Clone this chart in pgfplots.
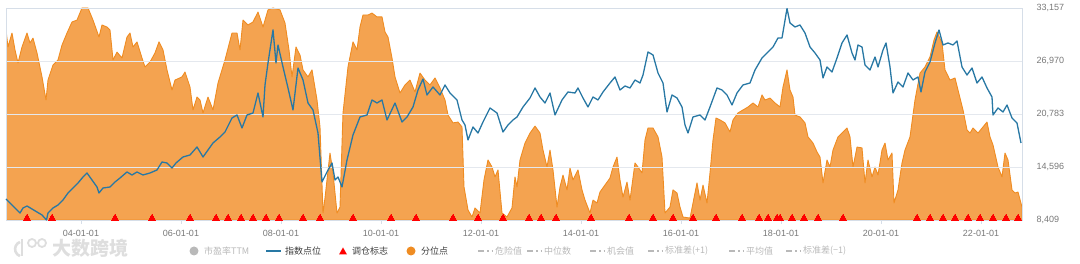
\documentclass[border=0pt]{standalone}
\usepackage{pgfplots}
\pgfplotsset{compat=1.18}
\usepackage{fontspec}
\setmainfont{Liberation Sans}
\newfontfamily\cjk{Noto Sans CJK SC}
\definecolor{orangefill}{RGB}{244,163,80}
\definecolor{orangeline}{RGB}{239,140,34}
\definecolor{idxblue}{RGB}{40,120,164}
\definecolor{gridc}{RGB}{228,232,238}
\definecolor{axisc}{RGB}{214,222,232}
\definecolor{tickc}{RGB}{120,120,120}
\definecolor{inact}{RGB}{185,185,185}
\definecolor{actc}{RGB}{60,60,60}
\definecolor{wm}{RGB}{222,222,222}

\pgfplotstableread{
year pct
2002.50 89.6
2002.54 81.6
2002.62 88.2
2002.68 80.2
2002.74 74.1
2002.82 81.6
2002.92 88.2
2002.98 83.5
2003.04 85.8
2003.12 78.8
2003.22 67.5
2003.30 56.6
2003.34 66.0
2003.44 73.1
2003.54 75.5
2003.62 82.5
2003.72 88.2
2003.82 93.4
2003.92 94.3
2004.02 100
2004.14 100
2004.24 94.3
2004.36 86.3
2004.42 92.0
2004.52 91.0
2004.58 89.6
2004.64 75.5
2004.72 79.2
2004.82 76.4
2004.92 86.3
2004.98 88.2
2005.04 81.6
2005.12 84.0
2005.22 76.4
2005.28 72.2
2005.38 74.5
2005.48 78.8
2005.56 84.0
2005.64 80.2
2005.72 70.8
2005.82 61.3
2005.88 66.0
2006.02 67.5
2006.08 69.8
2006.18 62.7
2006.24 51.9
2006.32 58.0
2006.38 56.6
2006.44 50.5
2006.54 58.0
2006.64 51.9
2006.74 64.6
2006.88 75.5
2007.02 88.2
2007.12 88.2
2007.18 80.2
2007.24 94.3
2007.34 92.0
2007.44 93.4
2007.54 98.1
2007.64 91.0
2007.74 99.1
2007.84 100
2007.98 99.1
2008.08 92.9
2008.16 80.2
2008.22 67.5
2008.30 81.6
2008.38 77.8
2008.44 70.8
2008.54 67.5
2008.62 70.8
2008.72 56.6
2008.78 43.9
2008.84 3.3
2008.88 10.4
2008.98 31.6
2009.04 22.2
2009.12 3.3
2009.18 6.1
2009.24 50.5
2009.34 72.2
2009.44 84.0
2009.52 80.2
2009.58 91.0
2009.64 96.7
2009.74 96.7
2009.82 97.6
2009.92 95.8
2010.02 95.8
2010.08 88.7
2010.14 86.3
2010.22 76.4
2010.28 67.5
2010.38 59.9
2010.48 63.7
2010.58 66.0
2010.68 60.4
2010.78 69.3
2010.88 66.0
2010.98 63.7
2011.08 67.0
2011.18 62.3
2011.28 56.6
2011.34 49.5
2011.44 45.8
2011.54 46.2
2011.62 43.9
2011.66 15.6
2011.74 4.7
2011.82 1.4
2011.88 5.7
2011.98 3.3
2012.06 18.9
2012.14 28.3
2012.22 25.0
2012.28 20.3
2012.34 23.6
2012.42 3.3
2012.52 1.4
2012.62 5.7
2012.68 20.3
2012.72 15.6
2012.78 28.3
2012.88 36.3
2012.98 41.0
2013.08 44.3
2013.18 41.0
2013.24 33.0
2013.32 25.0
2013.38 33.0
2013.44 23.6
2013.52 6.1
2013.58 15.6
2013.64 21.2
2013.72 14.2
2013.78 24.5
2013.84 18.9
2013.94 23.6
2014.02 14.2
2014.08 9.4
2014.18 3.3
2014.24 9.4
2014.32 8.0
2014.38 13.2
2014.48 16.5
2014.58 19.8
2014.64 25.0
2014.72 29.7
2014.78 18.9
2014.84 10.8
2014.92 17.9
2014.98 9.4
2015.08 26.9
2015.14 25.0
2015.22 22.2
2015.28 37.7
2015.34 43.4
2015.44 43.4
2015.54 39.2
2015.62 29.7
2015.68 3.3
2015.78 6.1
2015.84 14.2
2015.92 12.7
2015.98 6.1
2016.04 1.4
2016.18 0.9
2016.24 8.0
2016.32 17.5
2016.38 9.4
2016.44 16.5
2016.52 8.0
2016.58 22.2
2016.64 37.7
2016.70 48.1
2016.78 47.2
2016.88 45.8
2016.98 41.5
2017.04 47.2
2017.14 50.5
2017.24 51.9
2017.34 53.3
2017.44 55.2
2017.54 53.3
2017.62 59.0
2017.68 56.6
2017.78 57.5
2017.88 55.2
2017.98 53.3
2018.04 62.7
2018.12 70.8
2018.18 61.3
2018.24 58.0
2018.28 49.5
2018.38 48.6
2018.48 45.8
2018.54 39.2
2018.64 36.3
2018.72 32.1
2018.78 29.7
2018.84 17.5
2018.92 28.3
2018.98 25.0
2019.04 33.0
2019.14 39.2
2019.24 41.5
2019.32 43.4
2019.38 39.2
2019.44 25.0
2019.52 34.4
2019.62 34.0
2019.68 17.5
2019.74 28.3
2019.82 20.3
2019.88 25.0
2019.94 21.2
2020.02 33.0
2020.08 36.3
2020.14 28.3
2020.22 31.6
2020.26 8.0
2020.34 14.2
2020.42 26.9
2020.48 33.0
2020.58 39.2
2020.68 56.6
2020.78 69.3
2020.88 72.2
2020.98 76.9
2021.06 84.9
2021.12 88.7
2021.22 83.5
2021.28 70.8
2021.38 66.0
2021.48 67.0
2021.54 61.3
2021.64 51.9
2021.72 42.5
2021.78 41.0
2021.84 43.4
2021.94 41.0
2022.04 43.9
2022.12 46.2
2022.18 39.2
2022.24 35.4
2022.34 25.0
2022.42 20.3
2022.48 31.6
2022.54 28.3
2022.62 14.2
2022.68 12.7
2022.74 13.2
2022.82 6.1
}\pcttable

\pgfplotstableread{
year idx
2002.50 10861
2002.58 10394
2002.68 9810
2002.78 9226
2002.84 9810
2002.92 10043
2003.02 9693
2003.12 9343
2003.22 8993
2003.31 8409
2003.34 9226
2003.44 9810
2003.54 10160
2003.64 10744
2003.74 11561
2003.84 12145
2003.94 12728
2004.04 13429
2004.12 13896
2004.22 13079
2004.32 12261
2004.36 11561
2004.44 12145
2004.58 12261
2004.68 12845
2004.78 13312
2004.92 14013
2005.02 13662
2005.12 14013
2005.24 13662
2005.38 13896
2005.52 14246
2005.62 15180
2005.72 15063
2005.82 14479
2005.90 15063
2006.04 15764
2006.18 15997
2006.32 16931
2006.44 15764
2006.64 17398
2006.78 18098
2006.88 18682
2007.02 20316
2007.12 20667
2007.22 19149
2007.32 20667
2007.44 20900
2007.54 23235
2007.64 20433
2007.68 24169
2007.74 26737
2007.84 30600
2007.90 26737
2007.94 28839
2008.04 26270
2008.14 23819
2008.24 21250
2008.34 26153
2008.44 24753
2008.54 22067
2008.64 21250
2008.74 18565
2008.82 12845
2008.92 14013
2009.02 15063
2009.08 13079
2009.14 13429
2009.22 12261
2009.32 15413
2009.44 18332
2009.58 20433
2009.72 20667
2009.82 22418
2009.92 22067
2010.02 22418
2010.12 20083
2010.28 22067
2010.42 19850
2010.52 20433
2010.64 21601
2010.74 23585
2010.84 24869
2010.92 23002
2011.04 23935
2011.18 23002
2011.28 24169
2011.38 23235
2011.52 22418
2011.62 20083
2011.68 19499
2011.74 17748
2011.84 19266
2011.94 18565
2012.04 19850
2012.18 21484
2012.32 20900
2012.44 18682
2012.54 19499
2012.64 20083
2012.72 20433
2012.84 21601
2012.98 22651
2013.08 23819
2013.18 22768
2013.28 22067
2013.38 23235
2013.48 20667
2013.62 22418
2013.74 23352
2013.88 23235
2013.94 23819
2014.04 22651
2014.14 21601
2014.24 22768
2014.34 22418
2014.44 23352
2014.58 24402
2014.68 25103
2014.78 23585
2014.88 24052
2014.98 23819
2015.08 24753
2015.18 24402
2015.24 25336
2015.34 28021
2015.44 27671
2015.54 25570
2015.64 24402
2015.72 21017
2015.82 23002
2015.92 22651
2016.02 21601
2016.08 19499
2016.14 18565
2016.24 20433
2016.38 20667
2016.48 20083
2016.58 21601
2016.72 23819
2016.82 23585
2016.92 23002
2017.02 21834
2017.12 23235
2017.24 24169
2017.38 24402
2017.48 25920
2017.62 27321
2017.72 27905
2017.84 28605
2017.94 29656
2018.02 29656
2018.12 33100
2018.18 31407
2018.28 30940
2018.38 31173
2018.48 30239
2018.58 28605
2018.68 27905
2018.78 27087
2018.84 24986
2018.92 26270
2019.02 25687
2019.12 27321
2019.22 29072
2019.32 30006
2019.42 27905
2019.48 27087
2019.54 28839
2019.62 28605
2019.68 26504
2019.78 25920
2019.88 27438
2019.94 26270
2020.04 28255
2020.10 29072
2020.18 26270
2020.24 23235
2020.34 24519
2020.44 23935
2020.54 25570
2020.64 24753
2020.74 25103
2020.80 23352
2020.88 25687
2020.98 26854
2021.08 29072
2021.16 30590
2021.24 28839
2021.34 29072
2021.44 28839
2021.52 29305
2021.62 26270
2021.72 25336
2021.82 26153
2021.92 24402
2022.02 25103
2022.12 23819
2022.22 22768
2022.24 20667
2022.34 21484
2022.44 21017
2022.52 21834
2022.62 20316
2022.72 19732
2022.80 17398
}\idxtable

\pgfplotstableread{
year level
2002.92 8600
2003.42 8600
2004.68 8600
2005.42 8600
2006.18 8600
2006.70 8600
2006.94 8600
2007.20 8600
2007.44 8600
2007.70 8600
2007.96 8600
2008.44 8600
2008.78 8600
2009.44 8600
2010.20 8600
2010.70 8600
2011.44 8600
2011.94 8600
2012.44 8600
2012.96 8600
2013.20 8600
2013.50 8600
2014.20 8600
2014.96 8600
2015.44 8600
2015.84 8600
2016.24 8600
2016.70 8600
2017.22 8600
2017.56 8600
2017.74 8600
2017.92 8600
2017.98 8600
2018.22 8600
2018.46 8600
2018.74 8600
2019.24 8600
2020.72 8600
2020.98 8600
2021.24 8600
2021.48 8600
2021.74 8600
2021.98 8600
2022.24 8600
2022.50 8600
2022.74 8600
}\tradetable

\begin{document}
\begin{tikzpicture}
\path[use as bounding box] (0pt,0pt) rectangle (1080pt,264pt);
% percentile area (hidden left axis 0-100)
\begin{axis}[at={(6pt,44pt)}, anchor=south west, width=1016pt, height=212pt,
  scale only axis, xmin=2002.5, xmax=2022.82, ymin=0, ymax=100, hide axis]
\addplot[draw=orangeline, line width=0.9pt, fill=orangefill, line join=round] table[x=year,y=pct] {\pcttable} \closedcycle;
\end{axis}
% index axis (right)
\begin{axis}[at={(6pt,44pt)}, anchor=south west, width=1016pt, height=212pt,
  scale only axis, xmin=2002.5, xmax=2022.82, ymin=8409, ymax=33157,
  clip=false, scaled y ticks=false, scaled x ticks=false,
  axis line style={draw=axisc, line width=0.6pt},
  ytick={8409,14596,20783,26970,33157},
  yticklabels={{8,409},{14,596},{20,783},{26,970},{33,157}},
  yticklabel pos=right,
  ymajorgrids, grid style={draw=gridc, line width=0.6pt},
  ytick style={draw=none},
  xtick={2004,2006,2008,2010,2012,2014,2016,2018,2020,2022},
  xticklabels={04-01-01,06-01-01,08-01-01,10-01-01,12-01-01,14-01-01,16-01-01,18-01-01,20-01-01,22-01-01},
  xtick pos=bottom, tick align=outside, major tick length=4pt,
  xtick style={draw=axisc, line width=0.6pt},
  ticklabel style={font=\fontsize{9}{10}\selectfont, text=tickc},
  yticklabel style={xshift=7pt},
  xticklabel style={yshift=-3pt},
  /pgf/number format/assume math mode=true]
\addplot[draw=idxblue, line width=1.3pt, line join=round] table[x=year,y=idx] {\idxtable};
\addplot[only marks, mark=triangle*, mark size=4.2pt, mark options={fill=red, draw=red, line width=0pt}] table[x=year,y=level] {\tradetable};
\end{axis}
% legend
\begin{scope}[x=1pt,y=1pt,font=\cjk\fontsize{9}{10}\selectfont]
\fill[inact] (194,13) circle (4.5);
\node[anchor=west, text=inact, inner sep=0] at (204,13) {市盈率TTM};
\draw[idxblue, line width=2pt] (266,13) -- (281,13);
\node[anchor=west, text=actc, inner sep=0] at (285,13) {指数点位};
\fill[red] (339,9.5) -- (347,9.5) -- (343,16.5) -- cycle;
\node[anchor=west, text=actc, inner sep=0] at (352,13) {调仓标志};
\fill[orangeline] (411,13) circle (4.5);
\node[anchor=west, text=actc, inner sep=0] at (421,13) {分位点};
\foreach \xa/\lab in {478/危险值, 527/中位数, 590/机会值, 648/标准差(+1), 729/平均值, 786/标准差(−1)}{
  \draw[inact, line width=1.2pt, dash pattern=on 6pt off 3pt on 1.5pt off 3pt] (\xa,13) -- (\xa+14,13);
  \node[anchor=west, text=inact, inner sep=0] at (\xa+17,13) {\lab};
}
% watermark
\draw[wm, line width=2.6pt] (20,22) arc[start angle=110, end angle=250, radius=7.5];
\draw[wm, line width=2.2pt] (22,25) -- (22,8);
\draw[wm, line width=1.8pt] (32,21) circle (4);
\draw[wm, line width=1.8pt] (42,21) circle (4);
\node[anchor=west, text=wm, inner sep=0] at (52,16) {\cjk\bfseries\fontsize{19}{20}\selectfont 大数跨境};
\end{scope}
\end{tikzpicture}
\end{document}
